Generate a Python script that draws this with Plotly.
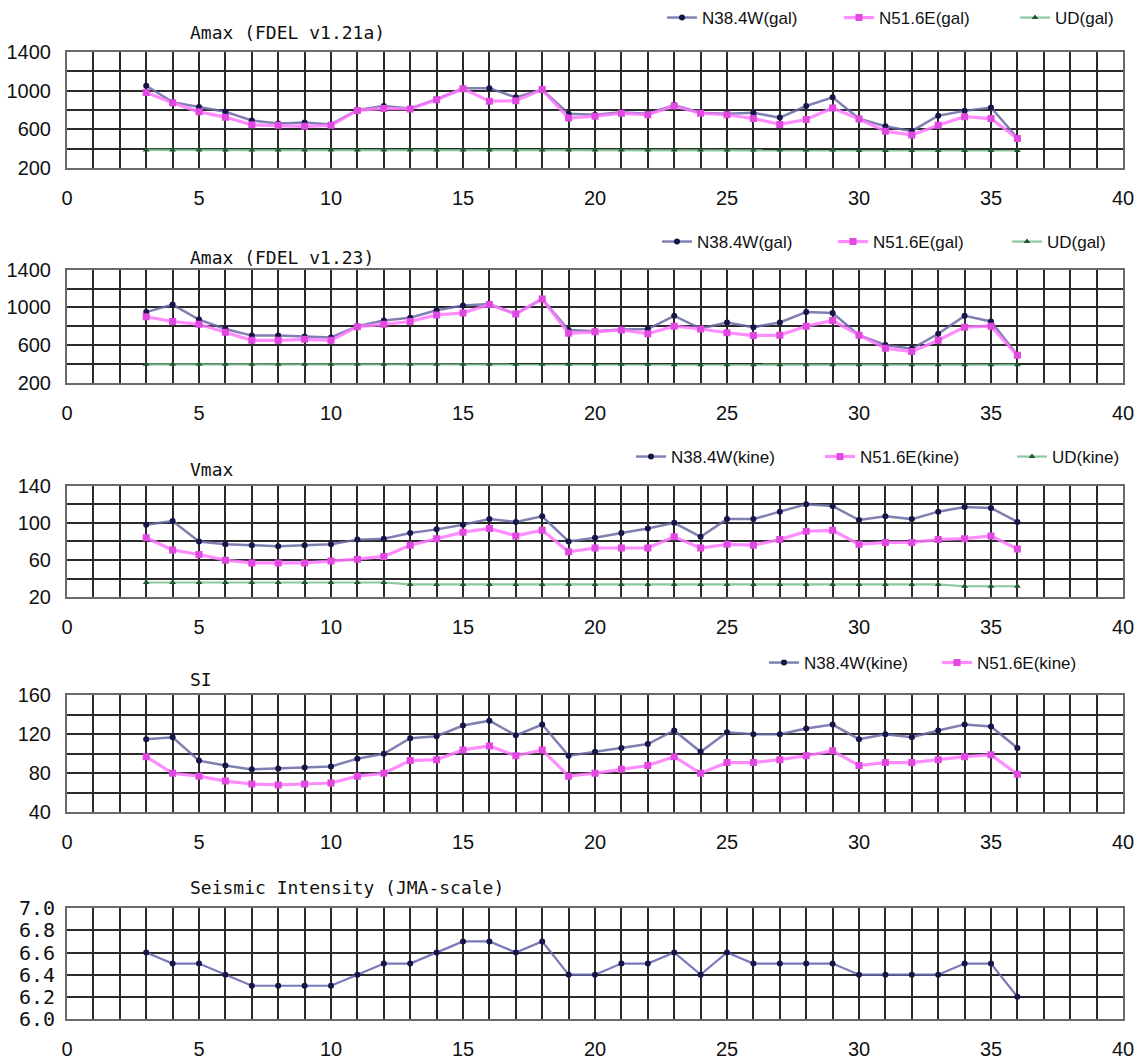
import plotly.graph_objects as go

# ---------------- data ----------------
x_pts = [3, 4, 5, 6, 7, 8, 9, 10, 11, 12, 13, 14, 15, 16, 17, 18, 19, 20,
         21, 22, 23, 24, 25, 26, 27, 28, 29, 30, 31, 32, 33, 34, 35, 36]

# Amax (FDEL v1.21a)
amax121_nw = [1050, 880, 830, 780, 690, 660, 670, 650, 800, 840, 815, 910, 1025, 1025, 930, 1010, 760,
              750, 775, 760, 850, 770, 760, 770, 720, 840, 930, 710, 630, 580, 740, 790, 825, 510]
amax121_ne = [980, 875, 780, 725, 645, 640, 630, 640, 795, 815, 810, 905, 1020, 890, 895, 1010, 715,
              735, 765, 750, 840, 765, 750, 710, 650, 700, 820, 705, 580, 540, 640, 730, 710, 505]
amax121_ud = [385, 385, 385, 385, 385, 385, 385, 385, 385, 385, 385, 385, 385, 385, 385, 385, 385,
              385, 385, 385, 385, 385, 385, 385, 385, 385, 385, 380, 380, 380, 380, 380, 380, 380]

# Amax (FDEL v1.23)
amax123_nw = [950, 1030, 870, 770, 700, 700, 690, 680, 800, 860, 890, 970, 1020, 1035, 930, 1090, 760,
              745, 765, 770, 910, 775, 840, 790, 840, 950, 940, 705, 600, 560, 720, 910, 850, 495]
amax123_ne = [900, 850, 820, 735, 650, 650, 660, 650, 795, 820, 850, 920, 940, 1030, 930, 1090, 725,
              740, 760, 720, 800, 770, 730, 700, 705, 800, 860, 705, 565, 530, 650, 790, 800, 490]
amax123_ud = [395, 395, 395, 395, 395, 395, 395, 395, 395, 395, 395, 395, 395, 395, 395, 395, 395,
              395, 395, 395, 390, 390, 390, 390, 390, 390, 390, 390, 390, 390, 390, 390, 390, 390]

# Vmax
vmax_nw = [98, 102, 80, 77, 76, 75, 76, 77, 82, 83, 89, 93, 98, 104, 101, 107, 80,
           84, 89, 94, 100, 85, 104, 104, 112, 120, 118, 103, 107, 104, 112, 117, 116, 101]
vmax_ne = [84, 71, 66, 60, 57, 57, 57, 59, 61, 64, 76, 83, 90, 94, 86, 92, 69,
           73, 73, 73, 85, 73, 77, 76, 82, 91, 92, 77, 79, 79, 82, 83, 86, 72]
vmax_ud = [36, 36, 36, 36, 36, 36, 36, 36, 36, 36, 34, 34, 34, 34, 34, 34, 34,
           34, 34, 34, 34, 34, 34, 34, 34, 34, 34, 34, 34, 34, 34, 32, 32, 32]

# SI
si_nw = [115, 117, 93, 88, 84, 85, 86, 87, 95, 100, 116, 118, 129, 134, 119, 130, 98,
         102, 106, 110, 124, 102, 122, 120, 120, 126, 130, 115, 120, 117, 124, 130, 128, 106]
si_ne = [97, 80, 77, 72, 69, 68, 69, 70, 77, 80, 93, 94, 104, 108, 98, 104, 77,
         80, 84, 88, 97, 80, 91, 91, 94, 98, 103, 88, 91, 91, 94, 97, 99, 79]

# Seismic Intensity (JMA-scale)
jma = [6.6, 6.5, 6.5, 6.4, 6.3, 6.3, 6.3, 6.3, 6.4, 6.5, 6.5, 6.6, 6.7, 6.7, 6.6, 6.7, 6.4,
       6.4, 6.5, 6.5, 6.6, 6.4, 6.6, 6.5, 6.5, 6.5, 6.5, 6.4, 6.4, 6.4, 6.4, 6.5, 6.5, 6.2]

titles = ["Amax (FDEL v1.21a)", "Amax (FDEL v1.23)", "Vmax", "SI", "Seismic Intensity (JMA-scale)"]
x_ticks = [0, 5, 10, 15, 20, 25, 30, 35, 40]

# ---------------- layout constants (pixels) ----------------
W, H = 1139, 1061
PL, PR = 67, 1123
panel_px = [(51, 167), (269, 382), (485, 597), (695, 812), (908, 1019)]
title_y = [32, 257, 469, 679, 887]
y_ranges = [(200, 1400), (200, 1400), (20, 140), (40, 160), (6.0, 7.0)]
y_major = [(200, 400, 200), (200, 400, 200), (20, 40, 20), (40, 40, 20), (6.0, 0.2, 0.2)]

def px_x(p):
    return p / W

def px_y(p):
    return 1 - p / H

NAVY_LINE = "rgba(105,105,165,0.85)"
NAVY_MK = "#15154a"
PINK_LINE = "rgba(255,120,255,0.85)"
PINK_MK = "#e048e0"
GREEN_LINE = "rgba(120,190,140,0.85)"
GREEN_MK = "#1c5a2c"

fig = go.Figure()

def add_series(i, y, name, kind, legend_key, show=True):
    ax = "" if i == 0 else str(i + 1)
    if kind == "nw":
        line = dict(color=NAVY_LINE, width=2.5)
        marker = dict(color=NAVY_MK, size=6, symbol="circle")
    elif kind == "ne":
        line = dict(color=PINK_LINE, width=3.2)
        marker = dict(color=PINK_MK, size=7, symbol="square")
    else:
        line = dict(color=GREEN_LINE, width=2.2)
        marker = dict(color=GREEN_MK, size=6, symbol="triangle-up")
    fig.add_trace(go.Scatter(
        x=x_pts, y=y, name=name, mode="lines+markers", line=line, marker=marker,
        xaxis="x" + ax, yaxis="y" + ax, legend=legend_key, showlegend=show))

series = [
    (0, amax121_nw, "N38.4W(gal)", "nw", 662, 17),
    (0, amax121_ne, "N51.6E(gal)", "ne", 839, 17),
    (0, amax121_ud, "UD(gal)", "ud", 1015, 17),
    (1, amax123_nw, "N38.4W(gal)", "nw", 657, 242),
    (1, amax123_ne, "N51.6E(gal)", "ne", 833, 242),
    (1, amax123_ud, "UD(gal)", "ud", 1007, 242),
    (2, vmax_nw, "N38.4W(kine)", "nw", 631, 457),
    (2, vmax_ne, "N51.6E(kine)", "ne", 820, 457),
    (2, vmax_ud, "UD(kine)", "ud", 1012, 457),
    (3, si_nw, "N38.4W(kine)", "nw", 764, 663),
    (3, si_ne, "N51.6E(kine)", "ne", 937, 663),
]

layout = dict(
    width=W, height=H,
    margin=dict(l=0, r=0, t=0, b=0),
    paper_bgcolor="white", plot_bgcolor="white",
    template="none",
    annotations=[],
)

for k, (i, y, name, kind, lx, ly) in enumerate(series):
    key = "legend" if k == 0 else "legend%d" % (k + 1)
    add_series(i, y, name, kind, key)
    layout[key] = dict(
        x=px_x(lx), y=px_y(ly), xanchor="left", yanchor="middle",
        orientation="h", bgcolor="rgba(0,0,0,0)", borderwidth=0,
        font=dict(family="Liberation Sans, Arial, sans-serif", size=17, color="#111"),
        itemwidth=30, tracegroupgap=0,
    )

# Seismic intensity line
fig.add_trace(go.Scatter(
    x=x_pts, y=jma, mode="lines+markers", name="JMA",
    line=dict(color="rgba(105,105,180,0.9)", width=2.2),
    marker=dict(color=NAVY_MK, size=6, symbol="circle"),
    xaxis="x5", yaxis="y5", showlegend=False))

GRID = "#2a2a2a"
for i in range(5):
    ax = "" if i == 0 else str(i + 1)
    top, bot = panel_px[i]
    lo, hi = y_ranges[i]
    t0, dt, mdt = y_major[i]
    layout["xaxis" + ax] = dict(
        domain=[px_x(PL), px_x(PR)], range=[0, 40], anchor="y" + ax,
        tickmode="array", tickvals=x_ticks, ticktext=[str(v) for v in x_ticks],
        showgrid=True, gridcolor=GRID, gridwidth=1.6,
        minor=dict(dtick=1, tick0=0, showgrid=True, gridcolor=GRID, gridwidth=1.6),
        showline=True, mirror=True, linecolor="#6a6a6a", linewidth=2,
        ticks="", zeroline=False, automargin=False,
        ticklabelstandoff=11,
        tickfont=dict(family="Liberation Sans, Arial, sans-serif", size=20, color="#111"),
    )
    yd = dict(
        domain=[px_y(bot), px_y(top)], range=[lo, hi], anchor="x" + ax,
        tick0=t0, dtick=dt,
        showgrid=True, gridcolor=GRID, gridwidth=1.6,
        minor=dict(dtick=mdt, tick0=t0, showgrid=True, gridcolor=GRID, gridwidth=1.6),
        showline=True, mirror=True, linecolor="#6a6a6a", linewidth=2,
        ticks="", zeroline=False, automargin=False,
        ticklabelstandoff=10,
        tickfont=dict(family="Liberation Sans, Arial, sans-serif", size=20, color="#111"),
    )
    if i == 4:
        yd["tickformat"] = ".1f"
        yd["tickfont"] = dict(family="DejaVu Sans Mono, monospace", size=20, color="#111")
        yd["ticklabelstandoff"] = 6
    layout["yaxis" + ax] = yd
    layout["annotations"].append(dict(
        text=titles[i], xref="paper", yref="paper", x=px_x(188), y=px_y(title_y[i]),
        xanchor="left", yanchor="middle", showarrow=False,
        font=dict(family="DejaVu Sans Mono, monospace", size=18, color="#111")))

fig.update_layout(**layout)
fig.write_html("out.html", config={"displayModeBar": False},
               post_script="document.body.style.margin='0px';document.body.style.overflow='hidden';")
